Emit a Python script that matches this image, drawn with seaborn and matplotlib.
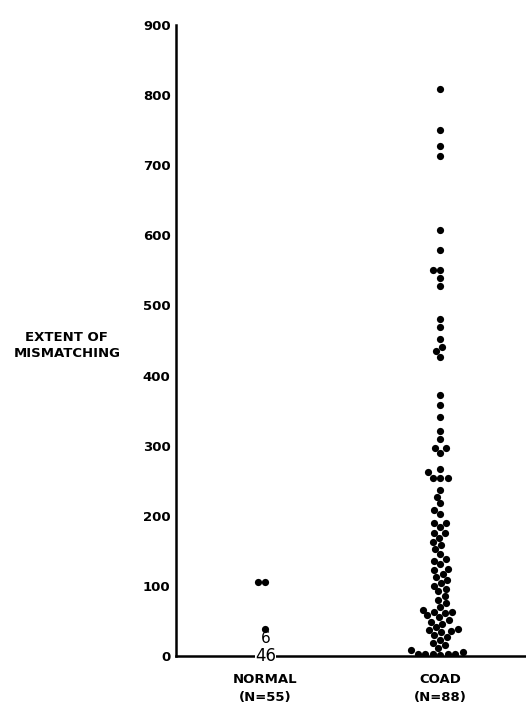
import pandas as pd
import matplotlib
matplotlib.use('Agg')
import matplotlib.pyplot as plt
import seaborn as sns

# extent of mismatching
normal_vals = [105, 105, 38]
normal_counts = ['6', '46']          # stacked counts drawn as numbers
normal_count_y = [25, 0]
coad_vals = [808, 750, 727, 713, 607, 579, 551, 551, 539, 527,
             480, 469, 452, 441, 435, 427, 372, 358, 341, 321,
             310, 297, 297, 290, 267,
             262, 254, 254, 254, 236, 227, 218, 208, 202, 190,
             190, 184, 175, 175, 168, 162,
             158, 152, 145, 138, 136, 131, 124, 122, 117, 112,
             109, 104, 100, 96, 92, 86, 80, 76, 70, 66,
             63, 62, 61, 58, 55, 52, 49, 46, 41, 38,
             37, 36, 34, 30, 27, 23, 19, 16, 12, 9,
             6, 3, 3, 3, 3, 3, 2]
groups = ['NORMAL', 'COAD']
group_labels = ['NORMAL\n(N=55)', 'COAD\n(N=88)']
y_ticks = list(range(0, 901, 100))

df = pd.DataFrame({
    'group': ['NORMAL'] * len(normal_vals) + ['COAD'] * len(coad_vals),
    'value': normal_vals + coad_vals,
})

sns.set_style('white')
plt.rcParams['font.family'] = ['DejaVu Sans']
plt.rcParams['text.color'] = 'black'
plt.rcParams['xtick.color'] = 'black'
plt.rcParams['ytick.color'] = 'black'

fig = plt.figure(figsize=(5.26, 7.13), dpi=100)
ax = fig.add_axes([0.335, 0.080, 0.665, 0.885])

sns.swarmplot(data=df, x='group', y='value', order=groups, color='black',
              size=5.2, ax=ax, zorder=3)

for lab, yv in zip(normal_counts, normal_count_y):
    ax.text(0, yv, lab, ha='center', va='center', fontsize=12 if lab == '46' else 11,
            color='black', zorder=4,
            bbox=dict(facecolor='white', edgecolor='none', pad=0.3) if lab == '46' else None)

ax.set_xlim(-0.51, 1.49)
ax.set_ylim(0, 900)
ax.set_yticks(y_ticks)
ax.set_yticklabels([str(t) for t in y_ticks], fontsize=9.5, fontweight='bold')
ax.set_xticks([0, 1])
ax.set_xticklabels(group_labels, fontsize=9.5, fontweight='bold', linespacing=1.5)
ax.tick_params(axis='y', direction='in', length=8, width=1.6, pad=4)
ax.tick_params(axis='x', length=0, pad=12)
ax.set_xlabel('')
ax.set_ylabel('')

for s in ['top', 'right']:
    ax.spines[s].set_visible(False)
for s in ['left', 'bottom']:
    ax.spines[s].set_linewidth(1.8)
    ax.spines[s].set_color('black')
    ax.spines[s].set_zorder(2)

fig.text(0.127, 0.515, 'EXTENT OF\nMISMATCHING', ha='center', va='center',
         fontsize=9.5, fontweight='bold', linespacing=1.3)

fig.savefig('out.png', dpi=100)
